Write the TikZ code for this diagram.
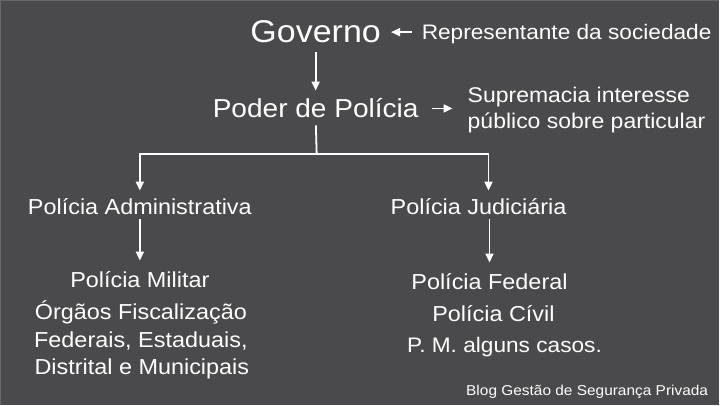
\documentclass[tikz,border=0pt]{standalone}
\usepackage{fontspec}
\setmainfont{Liberation Sans}[FakeStretch=1.08]
\usetikzlibrary{arrows.meta,positioning}
\definecolor{bggray}{RGB}{74,74,76}
\definecolor{rimgray}{RGB}{104,104,106}
\tikzset{
  >={Triangle[length=9pt,width=8pt]},
  every node/.style={text=white, inner sep=0pt},
  txttop/.style ={font=\fontsize{31.5}{36}\selectfont, anchor=base},
  txtmid/.style ={font=\fontsize{26}{30}\selectfont, anchor=base},
  txtlvl/.style ={font=\fontsize{21.7}{26}\selectfont, anchor=base},
  txtfoot/.style={font=\fontsize{14.3}{17}\selectfont, anchor=base},
  arr/.style    ={->, white, line width=1.8pt},
  lin/.style    ={white, line width=1.8pt},
}
\begin{document}
\begin{tikzpicture}[x=1pt, y=-1pt]
  % background
  \fill[bggray] (0,0) rectangle (720,405);
  \draw[rimgray, line width=1.5pt] (0.75,405) -- (0.75,0.75) -- (720,0.75);
  \useasboundingbox (0,0) rectangle (720,405);

  % top of the tree
  \node[txttop] (gov) at (316,43) {Governo};
  \node[txtlvl, anchor=base west, font=\fontsize{21}{26}\selectfont] (rep) at (422,40) {Representante da sociedade};
  \node[txtmid] (poder) at (316,118) {Poder de Polícia};
  \node[txtlvl, anchor=west, align=left, font=\fontsize{21.3}{26}\selectfont] (sup) at (468,110)
    {Supremacia interesse\\público sobre particular};

  % second level
  \node[txtlvl] (adm) at (140,215) {Polícia Administrativa};
  \node[txtlvl] (jud) at (479,215) {Polícia Judiciária};

  % left column
  \node[txtlvl] (mil) at (140,288) {Polícia Militar};
  \node[txtlvl] (org) at (141,320) {Órgãos Fiscalização};
  \node[txtlvl] (fedr) at (141,348) {Federais, Estaduais,};
  \node[txtlvl] (dist) at (142,375) {Distrital e Municipais};

  % right column
  \node[txtlvl] (fed) at (490,290) {Polícia Federal};
  \node[txtlvl] (civ) at (494,322) {Polícia Cívil};
  \node[txtlvl, font=\fontsize{21}{26}\selectfont] (pm) at (505,353) {P. M. alguns casos.};

  \node[txtfoot, anchor=base east] (blog) at (709,396) {Blog Gestão de Segurança Privada};

  % connectors
  \draw[arr, shorten <=10pt, shorten >=10pt] (rep.west |- gov.east) -- (gov.east);
  \draw[arr, shorten <=9pt, shorten >=8pt] (gov.south) -- (poder.north);
  \draw[arr, shorten <=13pt, shorten >=15pt] (poder.east) -- (poder.east -| sup.west);
  \coordinate (split) at (317,154);
  \draw[lin, shorten <=7pt] (poder.south) -- (split);
  \draw[arr, shorten >=8pt] (split) -| (adm.north);
  \draw[arr, shorten >=8pt] (split) -| ([xshift=10pt]jud.north);
  \draw[arr, shorten <=4pt, shorten >=11pt] (adm.south -| mil.north) -- (mil.north);
  \draw[arr, shorten <=4pt, shorten >=11pt] (fed.north |- jud.south) -- (fed.north);
\end{tikzpicture}
\end{document}
